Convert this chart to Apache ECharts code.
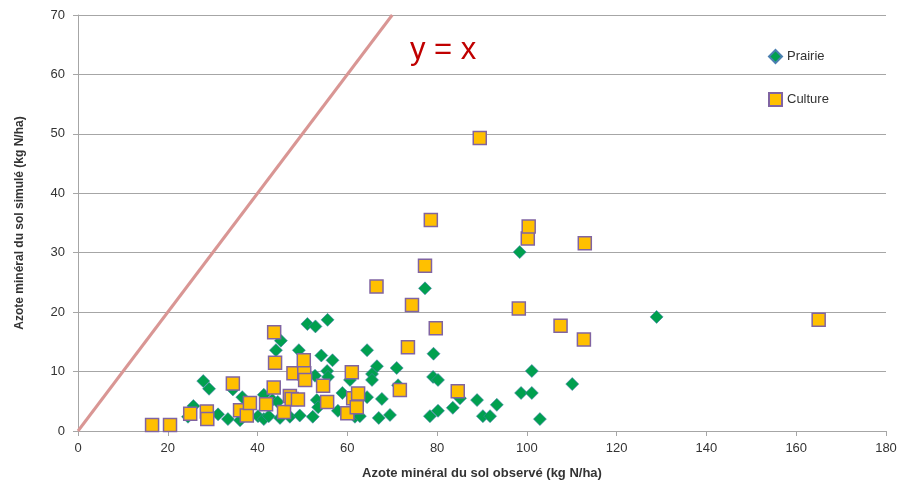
<!DOCTYPE html>
<html>
<head>
<meta charset="utf-8">
<script src="https://cdn.jsdelivr.net/npm/echarts@6/dist/echarts.min.js"></script>
<style>html,body{margin:0;padding:0;background:#fff;}#c{width:904px;height:485px;}</style>
</head>
<body>
<div id="c"></div>
<script>
// Prairie: [observed, simulated]
var prairie = [
 [24.5,2.4],[25.7,4.2],[27.9,8.4],[29.2,7.1],[31.2,2.8],[33.4,2.0],[34.5,7.0],[36.1,1.8],
 [36.6,5.7],[40.1,2.5],[41.4,2.0],[41.4,6.1],[42.5,2.5],[43.3,5.2],[44.1,13.6],[44.5,4.9],
 [45.2,15.2],[45.0,2.2],[47.2,2.4],[49.2,13.6],[49.4,2.6],[51.1,18.0],[52.9,17.6],[55.6,18.7],
 [54.2,12.7],[56.7,11.9],[52.8,9.3],[55.5,10.1],[55.7,9.1],[53.2,5.2],[53.5,4.0],[52.3,2.4],
 [57.9,3.4],[58.9,6.4],[60.6,8.6],[61.7,2.4],[64.4,13.6],[66.6,10.9],[65.5,9.6],[65.5,8.6],
 [64.4,5.7],[67.7,5.4],[62.8,2.5],[67.0,2.2],[69.5,2.7],[71.0,10.6],[71.3,7.7],[77.3,24.0],
 [79.2,13.0],[79.1,9.1],[80.2,8.6],[85.1,5.5],[88.9,5.2],[93.3,4.4],[83.5,3.9],[80.2,3.4],
 [78.4,2.5],[90.2,2.5],[91.8,2.5],[98.4,30.1],[98.7,6.4],[101.1,6.4],[101.1,10.1],[102.9,2.0],
 [110.1,7.9],[128.9,19.2]
];
// Culture: [observed, simulated]
var culture = [
 [16.5,1.0],[20.5,1.0],[25.0,2.9],[28.7,3.3],[28.8,2.0],[34.5,8.0],[36.1,3.5],[37.6,2.6],
 [38.3,4.7],[41.9,4.5],[43.6,7.3],[43.9,11.5],[43.7,16.6],[45.9,3.2],[47.2,5.9],[47.6,5.4],
 [48.0,9.7],[49.0,5.3],[50.3,11.9],[50.4,9.7],[50.6,8.6],[54.6,7.6],[55.5,4.9],[60.0,3.0],
 [61.0,9.9],[61.3,5.5],[62.4,6.3],[62.1,4.0],[66.5,24.3],[71.7,6.9],[73.5,14.1],[74.4,21.2],
 [77.3,27.8],[78.6,35.5],[79.7,17.3],[84.6,6.7],[89.5,49.3],[98.2,20.6],[100.2,32.4],[100.4,34.4],
 [107.5,17.7],[112.7,15.4],[112.9,31.6],[165.0,18.7]
];
var identityLine = [[0,0],[70,70]];
var xTicks = {min:0, max:180, interval:20};
var yTicks = {min:0, max:70, interval:10};
var xName = 'Azote minéral du sol observé (kg N/ha)';
var yName = 'Azote minéral du sol simulé (kg N/ha)';

var chart = echarts.init(document.getElementById('c'), null, {renderer:'canvas'});
var font = 'Liberation Sans';
chart.setOption({
  animation:false,
  backgroundColor:'#fff',
  textStyle:{fontFamily:font},
  grid:{left:78,right:18,top:15,bottom:54},
  legend:{
    orient:'vertical', left:763, top:44, itemGap:28, itemWidth:13, itemHeight:13,
    textStyle:{fontFamily:font,fontSize:13,color:'#333333'},
    data:[{name:'Prairie',icon:'diamond'},{name:'Culture',icon:'rect'}]
  },
  xAxis:{
    type:'value', min:xTicks.min, max:xTicks.max, interval:xTicks.interval,
    name:xName, nameLocation:'middle', nameGap:36,
    nameTextStyle:{fontFamily:font,fontSize:13,fontWeight:'bold',color:'#333333'},
    axisLine:{show:true,lineStyle:{color:'#a6a6a6',width:1}},
    axisTick:{show:true,length:5,lineStyle:{color:'#a6a6a6'}},
    axisLabel:{margin:11,fontSize:13,color:'#333333',fontFamily:font},
    splitLine:{show:false}
  },
  yAxis:{
    type:'value', min:yTicks.min, max:yTicks.max, interval:yTicks.interval,
    name:yName, nameLocation:'middle', nameGap:52,
    nameTextStyle:{fontFamily:font,fontSize:12,fontWeight:'bold',color:'#333333'},
    axisLine:{show:true,lineStyle:{color:'#a6a6a6',width:1}},
    axisTick:{show:true,length:5,lineStyle:{color:'#a6a6a6'}},
    axisLabel:{margin:13,fontSize:13,color:'#333333',fontFamily:font},
    splitLine:{show:true,lineStyle:{color:'#a6a6a6',width:1}}
  },
  graphic:[{type:'text',left:410,top:35,style:{text:'y = x',fontSize:31,fontFamily:font,fill:'#c00000'}}],
  series:[
    {type:'line', name:'y=x', data:identityLine, showSymbol:false, symbol:'none',
     lineStyle:{color:'#d99694',width:3}, silent:true, z:1},
    {type:'scatter', name:'Prairie', data:prairie, symbol:'diamond', symbolSize:[13,13],
     itemStyle:{color:'#00a04f',borderColor:'#4a7fb0',borderWidth:0.6,opacity:1}, z:3},
    {type:'scatter', name:'Culture', data:culture, symbol:'rect', symbolSize:[13,13],
     itemStyle:{color:'#ffc000',borderColor:'#8064a2',borderWidth:1.5,opacity:1}, z:4}
  ]
});
</script>
</body>
</html>
